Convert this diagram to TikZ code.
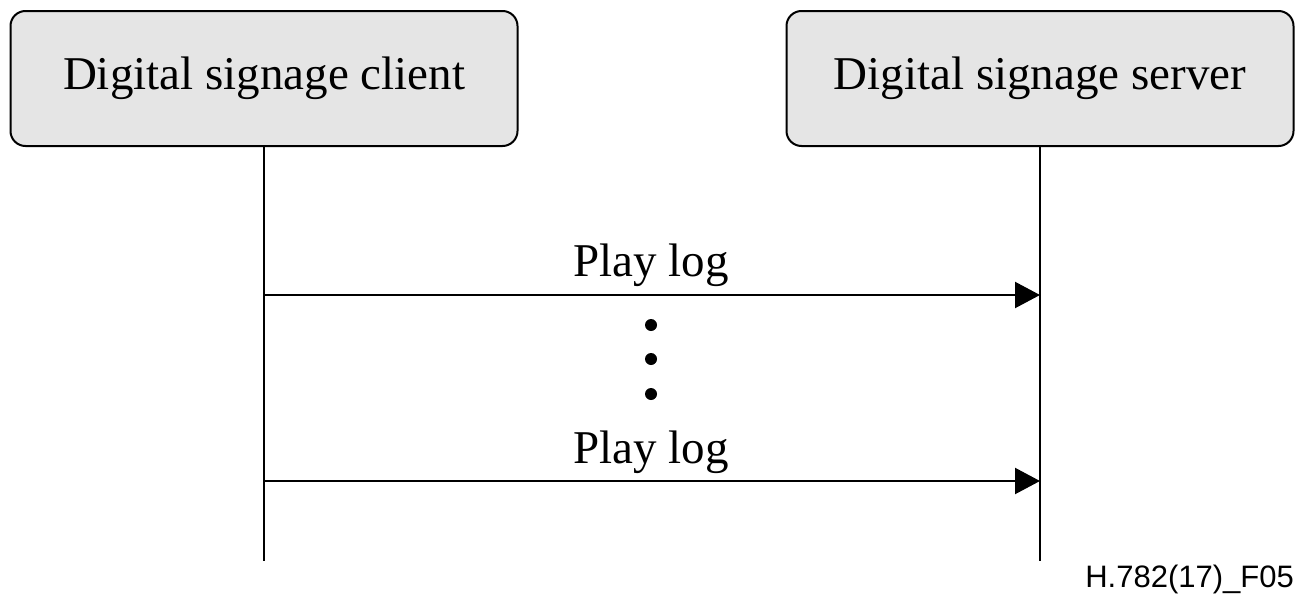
\documentclass[tikz,border=0pt]{standalone}
\usepackage{fontspec}
\setmainfont{Liberation Serif}
\newfontfamily\figsans{Liberation Sans}
\usetikzlibrary{arrows.meta}

\tikzset{
  entitybox/.style={draw, line width=2pt, rounded corners=15pt, fill=black!10,
    minimum width=507pt, minimum height=135pt, inner sep=0pt,
    font=\fontsize{47}{56}\selectfont},
  lifeline/.style={line width=2pt},
  msg/.style={line width=2.2pt, -{Triangle[length=25pt,width=26pt]}},
  msglabel/.style={inner sep=0pt, anchor=base, font=\fontsize{47}{56}\selectfont},
  ellipsisdot/.style={circle, fill, inner sep=0pt, minimum size=12pt},
}

\begin{document}
\begin{tikzpicture}[x=1pt,y=1pt,yscale=-1,xscale=1]
\useasboundingbox (0,0) rectangle (1298,597);

% Entities
\node[entitybox] (client) at (264,78.5) {Digital signage client};
\node[entitybox] (server) at (1040,78.5) {Digital signage server};

% Lifelines
\coordinate (clientend) at (264,561);
\coordinate (serverend) at (1040,561);
\draw[lifeline] (client.south) -- (clientend);
\draw[lifeline] (server.south) -- (serverend);

% Messages
\coordinate (c1) at (264,295);
\coordinate (s1) at (1040,295);
\coordinate (c2) at (264,481);
\coordinate (s2) at (1040,481);
\draw[msg] (c1) -- (s1);
\draw[msg] (c2) -- (s2);

% Text Node
\node[msglabel] (log1) at (651,276) {Play log};
% Text Node
\node[msglabel] (log2) at (651,463) {Play log};

% Dots
\node[ellipsisdot] (dot1) at (651,325) {};
\node[ellipsisdot] (dot2) at (651,359) {};
\node[ellipsisdot] (dot3) at (651,394) {};

% Figure id
\node[inner sep=0pt, anchor=base east, font=\figsans\fontsize{31}{36}\selectfont] (figid) at (1294,587) {H.782(17)\_F05};

\end{tikzpicture}
\end{document}
